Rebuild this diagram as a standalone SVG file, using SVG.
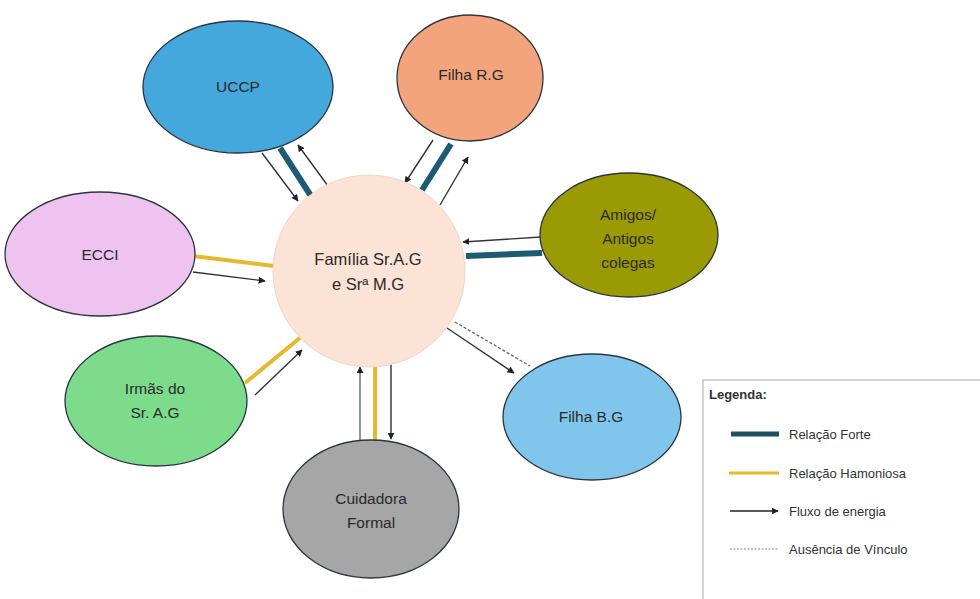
<svg xmlns="http://www.w3.org/2000/svg" width="980" height="599" viewBox="0 0 980 599">
<defs>
<marker id="ah" viewBox="0 0 10 10" refX="9" refY="5" markerWidth="7" markerHeight="7" markerUnits="userSpaceOnUse" orient="auto">
<path d="M0,0 L10,5 L0,10 z" fill="#222"/>
</marker>
</defs>
<style>
.node{stroke:#2b3540;stroke-width:1.3}
.t{font-family:"Liberation Sans",Arial,sans-serif;font-size:15.5px;fill:#2a2a2a;text-anchor:middle}
.strong{stroke:#1d5a73;stroke-width:6;fill:none}
.harm{stroke:#e6b92a;stroke-width:4;fill:none}
.flow{stroke:#333;stroke-width:1.4;fill:none;marker-end:url(#ah)}
.none{stroke:#666;stroke-width:1.3;stroke-dasharray:3 2;fill:none}
.lg{font-family:"Liberation Sans",Arial,sans-serif;font-size:13px;fill:#333}
</style>
<rect width="980" height="599" fill="#fff"/>

<g id="connectors">
<!-- UCCP -->
<line class="flow" x1="262" y1="153" x2="298" y2="201"/>
<line class="strong" x1="280" y1="148" x2="311" y2="196"/>
<line class="flow" x1="328" y1="186" x2="298" y2="145"/>
<!-- Filha R.G -->
<line class="flow" x1="433" y1="140" x2="405" y2="183"/>
<line class="strong" x1="451" y1="144" x2="422" y2="190"/>
<line class="flow" x1="440" y1="205" x2="468" y2="157"/>
<!-- ECCI -->
<line class="harm" x1="193" y1="256" x2="274" y2="266"/>
<line class="flow" x1="193" y1="272" x2="265" y2="281"/>
<!-- Amigos -->
<line class="flow" x1="541" y1="237" x2="463" y2="242"/>
<line class="strong" x1="466" y1="256" x2="542" y2="253"/>
<!-- Filha B.G -->
<line class="none" x1="455" y1="322" x2="530" y2="366"/>
<line class="flow" x1="447" y1="328" x2="514" y2="373"/>
<!-- Irmãs -->
<line class="harm" x1="245" y1="383" x2="301" y2="337"/>
<line class="flow" x1="255" y1="395" x2="302" y2="350"/>
<!-- Cuidadora -->
<line class="flow" x1="360" y1="443" x2="360" y2="367" style="stroke:#5d6b78"/>
<line class="harm" x1="375" y1="362" x2="375" y2="443"/>
<line class="flow" x1="391" y1="362" x2="391" y2="439"/>
</g>

<g id="center">
<circle cx="369" cy="271" r="96" fill="#fbe3d6" stroke="#f0d6c8" stroke-width="1"/>
<text class="t" x="368" y="265" style="font-size:16.5px">Família Sr.A.G</text>
<text class="t" x="368" y="290" style="font-size:16.5px">e Srª M.G</text>
</g>

<g id="uccp">
<ellipse class="node" cx="238" cy="87" rx="95" ry="66" fill="#45a8dc"/>
<text class="t" x="238" y="92">UCCP</text>
</g>

<g id="filha-rg">
<ellipse class="node" cx="470" cy="78" rx="73" ry="63" fill="#f3a47c"/>
<text class="t" x="471" y="80">Filha R.G</text>
</g>

<g id="amigos">
<ellipse class="node" cx="629" cy="235" rx="89" ry="62" fill="#9a9a05"/>
<text class="t" x="628" y="220">Amigos/</text>
<text class="t" x="628" y="244">Antigos</text>
<text class="t" x="628" y="268">colegas</text>
</g>

<g id="ecci">
<ellipse class="node" cx="100" cy="254" rx="95" ry="62" fill="#efc3ef"/>
<text class="t" x="100" y="260">ECCI</text>
</g>

<g id="irmas">
<ellipse class="node" cx="156" cy="401" rx="91" ry="65" fill="#7ddc8c"/>
<text class="t" x="155" y="394">Irmãs do</text>
<text class="t" x="155" y="418">Sr. A.G</text>
</g>

<g id="cuidadora">
<ellipse class="node" cx="371" cy="509" rx="88" ry="69" fill="#a6a6a6"/>
<text class="t" x="371" y="504">Cuidadora</text>
<text class="t" x="371" y="528">Formal</text>
</g>

<g id="filha-bg">
<ellipse class="node" cx="592" cy="417" rx="89" ry="63" fill="#80c6ec"/>
<text class="t" x="591" y="422">Filha B.G</text>
</g>

<g id="legend">
<rect x="703" y="380" width="290" height="230" fill="#fff" stroke="#aaa" stroke-width="1"/>
<text class="lg" x="709" y="399" style="font-weight:bold">Legenda:</text>
<line x1="731" y1="434" x2="779" y2="434" stroke="#1f4f63" stroke-width="5"/>
<text class="lg" x="789" y="439">Relação Forte</text>
<line x1="729" y1="473" x2="779" y2="473" stroke="#e6b92a" stroke-width="3"/>
<text class="lg" x="789" y="478">Relação Hamoniosa</text>
<line x1="730" y1="511" x2="778" y2="511" stroke="#222" stroke-width="1.3" marker-end="url(#ah)"/>
<text class="lg" x="789" y="516">Fluxo de energia</text>
<line x1="730" y1="549" x2="778" y2="549" stroke="#888" stroke-width="1.2" stroke-dasharray="2 1.5"/>
<text class="lg" x="789" y="554">Ausência de Vínculo</text>
</g>
</svg>
